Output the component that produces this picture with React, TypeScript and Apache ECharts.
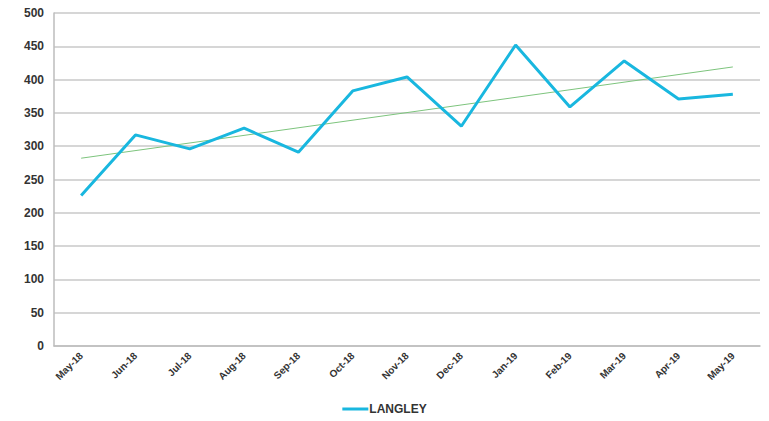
import React, { useEffect, useRef } from "react";
import * as echarts from "echarts";

const categories = ["May-18", "Jun-18", "Jul-18", "Aug-18", "Sep-18", "Oct-18", "Nov-18", "Dec-18", "Jan-19", "Feb-19", "Mar-19", "Apr-19", "May-19"];
const langley = [226, 317, 296, 327, 291, 383, 404, 330, 452, 359, 428, 371, 378];
const trendEnds = [282, 419];

export default function App() {
  const ref = useRef<HTMLDivElement>(null);
  useEffect(() => {
    if (!ref.current) return;
    const chart = echarts.init(ref.current, null, { renderer: "svg" });
    const trendData = categories.map((_, i) =>
      i === 0 ? trendEnds[0] : i === categories.length - 1 ? trendEnds[1] : null
    );
    chart.setOption({
      animation: false,
      backgroundColor: "#ffffff",
      grid: { left: 54, right: 9, top: 13, bottom: 75 },
      legend: {
        bottom: 1,
        left: "center",
        data: [{ name: "LANGLEY", icon: "rect" }],
        itemWidth: 26,
        itemHeight: 3,
        itemGap: 0,
        textStyle: { color: "#333", fontFamily: "Liberation Sans, Arial", fontSize: 12, fontWeight: "bold", padding: [0, 0, 0, -4] },
      },
      xAxis: {
        type: "category",
        data: categories,
        boundaryGap: true,
        axisLine: { lineStyle: { color: "#bdbdbd", width: 1.5 } },
        axisTick: { show: false },
        axisLabel: {
          rotate: 45,
          interval: 0,
          color: "#333",
          fontFamily: "Liberation Sans, Arial",
          fontSize: 10,
          fontWeight: "bold",
          margin: 8,
        },
      },
      yAxis: {
        type: "value",
        min: 0,
        max: 500,
        interval: 50,
        axisLine: { show: true, lineStyle: { color: "#bdbdbd", width: 1.5 } },
        axisTick: { show: false },
        splitLine: { lineStyle: { color: "#c8c8c8", width: 1.5 } },
        axisLabel: {
          color: "#333",
          fontFamily: "Liberation Sans, Arial",
          fontSize: 12,
          fontWeight: "bold",
          margin: 10,
        },
      },
      series: [
        {
          name: "LANGLEY",
          type: "line",
          data: langley,
          symbol: "none",
          itemStyle: { color: "#19b7df" },
          lineStyle: { color: "#19b7df", width: 3 },
          z: 3,
        },
        {
          name: "Trend",
          type: "line",
          data: trendData,
          connectNulls: true,
          symbol: "none",
          itemStyle: { color: "#7dc47d" },
          lineStyle: { color: "#7dc47d", width: 1 },
          z: 2,
        },
      ],
    });
    return () => chart.dispose();
  }, []);
  return <div ref={ref} style={{ position: "absolute", left: 0, top: 0, width: 769, height: 421 }} />;
}
